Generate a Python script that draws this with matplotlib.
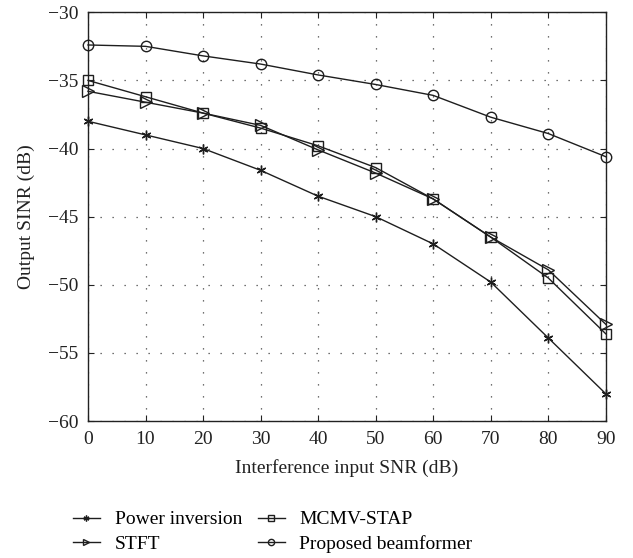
import matplotlib
matplotlib.use("Agg")
import matplotlib.pyplot as plt

x = [0, 10, 20, 30, 40, 50, 60, 70, 80, 90]
power_inversion = [-38.0, -39.0, -40.0, -41.6, -43.5, -45.0, -47.0, -49.8, -53.9, -58.0]
mcmv_stap = [-35.0, -36.2, -37.4, -38.5, -39.8, -41.4, -43.7, -46.5, -49.5, -53.6]
stft = [-35.8, -36.6, -37.4, -38.3, -40.1, -41.8, -43.7, -46.5, -48.9, -52.9]
proposed = [-32.4, -32.5, -33.2, -33.8, -34.6, -35.3, -36.1, -37.7, -38.9, -40.6]
xticks = [0, 10, 20, 30, 40, 50, 60, 70, 80, 90]
yticks = [-60, -55, -50, -45, -40, -35, -30]

plt.rcParams['font.family'] = ['Liberation Serif', 'DejaVu Serif']

fig = plt.figure(figsize=(6.33, 5.58), dpi=100)
ax = fig.add_axes([0.139, 0.2455, 0.818, 0.7325])

lw = 1.0
c = '#1e1e1e'
h1, = ax.plot(x, power_inversion, color=c, lw=lw, marker=(6, 2, 0), ms=7, mew=1.0,
              label='Power inversion', clip_on=False, zorder=3)
h3, = ax.plot(x, stft, color=c, lw=lw, marker='>', ms=8, mfc='none', mew=1.0,
              label='STFT', clip_on=False, zorder=3)
h2, = ax.plot(x, mcmv_stap, color=c, lw=lw, marker='s', ms=6.5, mfc='none', mew=1.0,
              label='MCMV-STAP', clip_on=False, zorder=3)
h4, = ax.plot(x, proposed, color=c, lw=lw, marker='o', ms=7.5, mfc='none', mew=1.0,
              label='Proposed beamformer', clip_on=False, zorder=3)

ax.set_xlim(0, 90)
ax.set_ylim(-60, -30)
ax.set_xticks(xticks)
ax.set_yticks(yticks)
ax.set_yticklabels(['\u221260', '\u221255', '\u221250', '\u221245', '\u221240', '\u221235', '\u221230'])
ax.grid(True, linestyle=(0, (1, 8.6)), color='#444444', lw=0.9)
ax.tick_params(direction='in', top=True, right=True, labelsize=14, length=4, pad=7, colors='#222222')
for s in ax.spines.values():
    s.set_linewidth(1.0)
    s.set_color('#222222')

ax.set_xlabel('Interference input SNR (dB)', fontsize=14, color='#222222', labelpad=8)
ax.set_ylabel('Output SINR (dB)', fontsize=14, color='#222222', labelpad=9)

leg = fig.legend(handles=[h1, h3, h2, h4], loc='upper left', bbox_to_anchor=(0.115, 0.0845),
                 ncol=2, frameon=False, fontsize=14, handlelength=1.4, handletextpad=0.75,
                 columnspacing=0.8, labelspacing=0.35, markerscale=0.6, borderaxespad=0,
                 borderpad=0)

fig.savefig('out.png', dpi=100)
